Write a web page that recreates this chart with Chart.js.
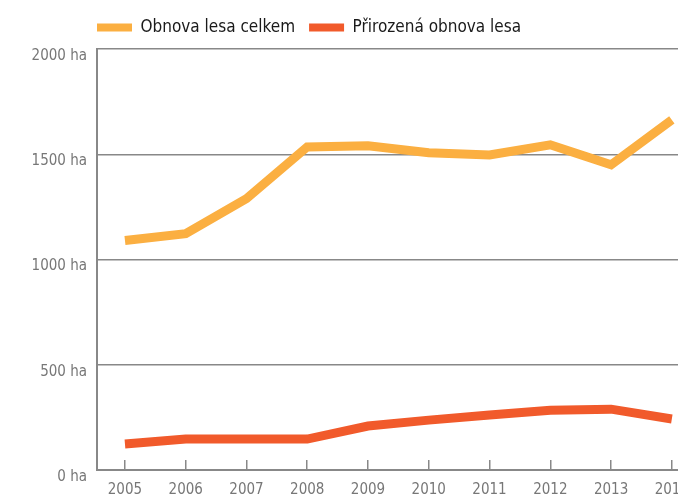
<!DOCTYPE html>
<html>
<head>
<meta charset="utf-8">
<script src="https://cdn.jsdelivr.net/npm/chart.js@4"></script>
<style>
  html, body { margin: 0; padding: 0; background: #fff; overflow: hidden; }
  #wrap { width: 710px; height: 495px; }
</style>
</head>
<body>
<div id="wrap"><canvas id="chart" width="710" height="495"></canvas></div>
<script>
const years = [2005, 2006, 2007, 2008, 2009, 2010, 2011, 2012, 2013, 2014];
const obnovaCelkem = [1090, 1123, 1289, 1535, 1540, 1507, 1497, 1545, 1450, 1663];
const prirozenaObnova = [123, 147, 147, 147, 209, 237, 261, 284, 289, 242];
const yTicks = [0, 500, 1000, 1500, 2000];

const FONT = "'Liberation Sans Narrow', 'DejaVu Sans Condensed', 'Roboto', sans-serif";

function points(values) {
  return years.map(function (y, i) { return { x: y, y: values[i] }; });
}

// legend starts at the left edge of the plot, like in the source
const legendToPlot = {
  id: "legendToPlot",
  afterLayout: function (chart) {
    const l = chart.legend;
    const dx = chart.chartArea.left - l.left - l.options.labels.padding;
    l.left += dx;
    l.right += dx;
    l.top -= 3;
    l.bottom -= 3;
  }
};

new Chart(document.getElementById("chart").getContext("2d"), {
  type: "line",
  data: {
    datasets: [
      {
        label: "Obnova lesa celkem",
        data: points(obnovaCelkem),
        borderColor: "#FBAF41",
        backgroundColor: "#FBAF41",
        borderWidth: 9,
        pointRadius: 0,
        lineTension: 0,
        fill: false
      },
      {
        label: "Přirozená obnova lesa",
        data: points(prirozenaObnova),
        borderColor: "#F15A2B",
        backgroundColor: "#F15A2B",
        borderWidth: 9,
        pointRadius: 0,
        lineTension: 0,
        fill: false
      }
    ]
  },
  options: {
    responsive: false,
    animation: false,
    layout: { padding: { top: 8, right: 0, bottom: 0, left: 0 } },
    plugins: {
      tooltip: { enabled: false },
      legend: {
        position: "top",
        align: "start",
        labels: {
          boxWidth: 35,
          boxHeight: 8,
          padding: 14,
          color: "#1a1a1a",
          font: { family: FONT, size: 17 },
          generateLabels: function (chart) {
            const items = Chart.defaults.plugins.legend.labels.generateLabels(chart);
            items.forEach(function (it) { it.lineWidth = 0; });
            return items;
          }
        }
      }
    },
    scales: {
      x: {
        type: "linear",
        min: 2004.54,
        max: 2014.55,
        afterBuildTicks: function (scale) {
          scale.ticks = years.map(function (v) { return { value: v }; });
        },
        afterFit: function (scale) { scale.height = 25; },
        grid: {
          drawOnChartArea: false,
          drawTicks: true,
          tickLength: -10,
          color: "#888",
          lineWidth: 1.5
        },
        border: { color: "#888", width: 2 },
        ticks: {
          padding: 21,
          maxRotation: 0,
          autoSkip: false,
          color: "#777",
          font: { family: FONT, size: 15 },
          callback: function (v) { return String(v); }
        }
      },
      y: {
        min: 0,
        max: 2000,
        afterBuildTicks: function (scale) {
          scale.ticks = yTicks.map(function (v) { return { value: v }; });
        },
        afterFit: function (scale) { scale.width = 97; },
        grid: { color: "#888", lineWidth: 1.5, drawTicks: false },
        border: { color: "#888", width: 2 },
        ticks: {
          padding: 10,
          labelOffset: 7,
          color: "#777",
          font: { family: FONT, size: 15 },
          callback: function (v) { return v + " ha"; }
        }
      }
    }
  },
  plugins: [legendToPlot]
});
</script>
</body>
</html>
